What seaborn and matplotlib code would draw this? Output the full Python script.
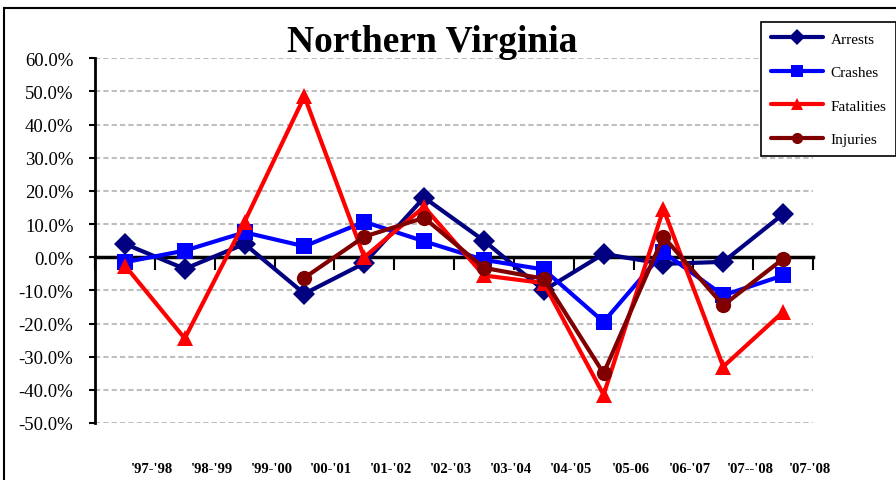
import numpy as np
import pandas as pd
import matplotlib
matplotlib.use("Agg")
import matplotlib.pyplot as plt
import seaborn as sns
from matplotlib.patches import Rectangle

sns.set_style("white")
plt.rcParams['font.family'] = ['Liberation Serif', 'DejaVu Serif']
plt.rcParams['text.color'] = 'black'
plt.rcParams['xtick.color'] = 'black'
plt.rcParams['ytick.color'] = 'black'
plt.rcParams['axes.labelcolor'] = 'black'

# Dados (variação percentual ano a ano)
periodos = ["'97-'98", "'98-'99", "'99-'00", "'00-'01", "'01-'02", "'02-'03",
            "'03-'04", "'04-'05", "'05-06", "'06-'07", "'07--'08", "'07-'08"]
arrests = [4.0, -3.5, 4.0, -11.0, -1.8, 18.0, 5.0, -10.0, 1.0, -2.0, -1.4, 13.0]
crashes = [-1.5, 2.0, 7.5, 3.3, 10.7, 4.8, -0.8, -3.7, -19.5, 1.5, -11.5, -5.5]
fatalities = [-2.5, -24.5, 10.7, 48.5, 0.0, 15.2, -5.5, -7.8, -41.5, 14.5, -33.0, -16.5]
injuries = [np.nan, np.nan, np.nan, -6.2, 6.2, 11.9, -3.2, -6.5, -35.0, 6.2, -14.5, -0.5]

series = {'Arrests': arrests, 'Crashes': crashes, 'Fatalities': fatalities, 'Injuries': injuries}
df = pd.concat([pd.DataFrame({'pos': np.arange(len(periodos)), 'serie': nome, 'valor': vals})
                for nome, vals in series.items()], ignore_index=True).dropna()

cores = {'Arrests': '#000080', 'Crashes': '#0000FF', 'Fatalities': '#FF0000', 'Injuries': '#800000'}
marcadores = {'Arrests': 'D', 'Crashes': 's', 'Fatalities': '^', 'Injuries': 'o'}

fig = plt.figure(figsize=(8.96, 4.81), dpi=100)
ax = fig.add_axes([95 / 896, 1 - 424 / 481, (813 - 95) / 896, (424 - 59.3) / 481])

sns.lineplot(data=df, x='pos', y='valor', hue='serie', style='serie',
             hue_order=list(series), style_order=list(series),
             palette=cores, markers=marcadores, dashes=False,
             linewidth=3, markersize=11, markeredgewidth=0, ax=ax)
for ln in ax.lines:
    ln.set_zorder(3)

ax.set_xlim(-0.5, 11.5)
ax.set_ylim(-50, 60)
ax.set_xlabel('')
ax.set_ylabel('')

# eixos
for s in ['top', 'right']:
    ax.spines[s].set_visible(False)
ax.spines['bottom'].set_position(('data', 0))
ax.spines['bottom'].set_linewidth(2.5)
ax.spines['bottom'].set_color('black')
ax.spines['left'].set_linewidth(2)
ax.spines['left'].set_color('black')

ax.set_xticks(np.arange(-0.5, 12, 1))
ax.tick_params(axis='x', direction='out', length=9, width=1.5, color='black', labelbottom=False, bottom=True)
ax.set_yticks(np.arange(-50, 61, 10))
ax.set_yticklabels([f'{v:.1f}%' for v in np.arange(-50, 61, 10)])
ax.tick_params(axis='y', direction='out', length=4.5, width=1.5, color='black', pad=11,
               labelsize=13.5, labelcolor='black', left=True)
ax.yaxis.grid(True, linestyle=(0, (2.5, 1.5)), color='#BFBFBF', linewidth=1.5)
ax.xaxis.grid(False)

for i, lab in enumerate(periodos):
    ax.text(i + 0.45, -0.126, lab, transform=ax.get_xaxis_transform(),
            ha='center', va='center', fontsize=10.5, fontweight='bold', color='black')

fig.text(432 / 896, 1 - 52 / 481, 'Northern Virginia', ha='center', va='baseline',
         fontsize=27, fontweight='bold', color='black')

handles, labels = ax.get_legend_handles_labels()
for h in handles:
    h.set_markersize(8)
    h.set_linewidth(3)
leg = ax.legend(handles, labels, loc='upper left', bbox_to_anchor=(761 / 896, 1 - 23 / 481),
                bbox_transform=fig.transFigure, frameon=True, fancybox=False,
                edgecolor='black', framealpha=1, fontsize=11, handlelength=3.4,
                labelspacing=1.3, borderpad=0.65, handletextpad=0.5, borderaxespad=0)
leg.get_frame().set_linewidth(1.2)
for t in leg.get_texts():
    t.set_color('black')

fig.patches.append(Rectangle((4 / 896, -0.05), 1.0, 1 - 9 / 481 + 0.05, transform=fig.transFigure,
                             fill=False, edgecolor='black', linewidth=1.5))

fig.savefig('out.png', dpi=100)
